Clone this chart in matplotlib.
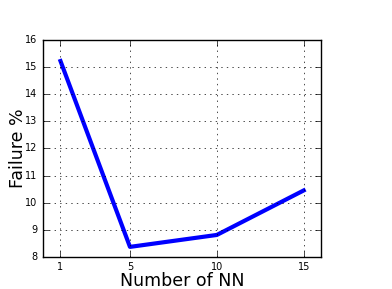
import matplotlib
matplotlib.use('Agg')
import matplotlib.pyplot as plt

NUM_NN = [1, 5, 10, 15]
FAILURE = [15.22, 8.37, 8.81, 10.45]

plt.style.use('classic')
fig = plt.figure(figsize=(3.92, 2.89), dpi=100)
ax = fig.add_axes([0.11, 0.111, 0.709, 0.751])

ax.plot(NUM_NN, FAILURE, color='b', linewidth=3)

ax.set_xlim(0, 16)
ax.set_ylim(8, 16)
ax.set_xticks(NUM_NN)
ax.set_yticks(range(8, 17))
ax.tick_params(labelsize=7)
ax.set_xlabel('Number of NN', fontsize=12.5, labelpad=-0.5)
ax.set_ylabel('Failure %', fontsize=12.5, labelpad=-1)
ax.grid(True)

fig.savefig('out.png', dpi=100)
